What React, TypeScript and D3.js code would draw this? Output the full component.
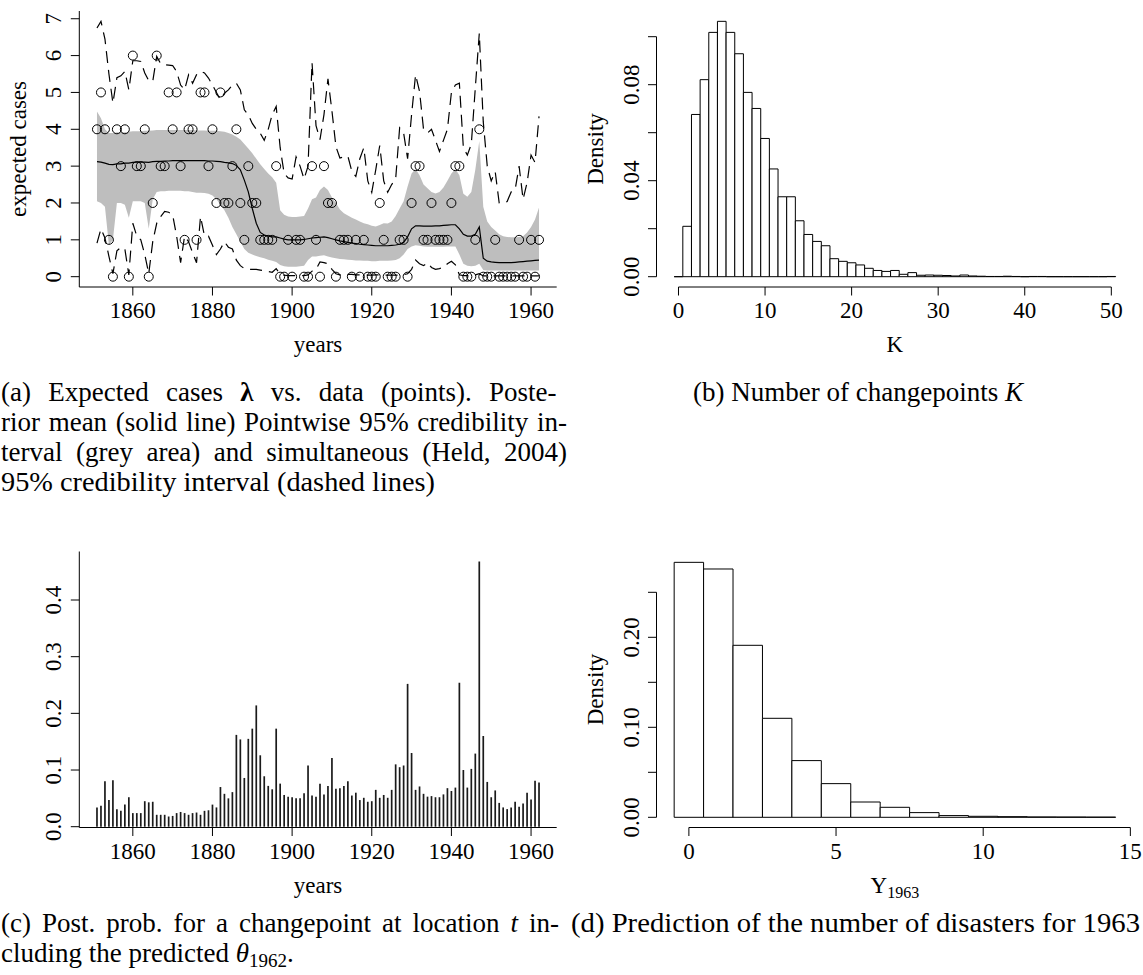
import React, { useLayoutEffect, useRef, useState } from "react";
import * as d3 from "d3";

// ---------------------------------------------------------------------------
// Data: British coal-mining disasters 1851-1962 and posterior summaries
// ---------------------------------------------------------------------------
const FIRST_YEAR = 1851;

const disasters = [
  4, 5, 4, 1, 0, 4, 3, 4, 0, 6,
  3, 3, 4, 0, 2, 6, 3, 3, 5, 4,
  5, 3, 1, 4, 4, 1, 5, 5, 3, 4,
  2, 5, 2, 2, 3, 4, 2, 1, 3, 2,
  2, 1, 1, 1, 1, 3, 0, 0, 1, 0,
  1, 1, 0, 0, 3, 1, 0, 3, 2, 2,
  0, 1, 1, 1, 0, 1, 0, 1, 0, 0,
  0, 2, 1, 0, 0, 0, 1, 1, 0, 2,
  3, 3, 1, 1, 2, 1, 1, 1, 1, 2,
  3, 3, 0, 0, 0, 1, 4, 0, 0, 0,
  1, 0, 0, 0, 0, 0, 1, 0, 0, 1,
  0, 1,
];

// posterior mean of lambda_t
const postMean = [
  3.12, 3.11, 3.08, 3.05, 3.04, 3.06, 3.06, 3.08, 3.08, 3.1,
  3.11, 3.11, 3.11, 3.1, 3.12, 3.13, 3.13, 3.14, 3.14, 3.15,
  3.15, 3.15, 3.15, 3.15, 3.15, 3.15, 3.15, 3.15, 3.14, 3.14,
  3.13, 3.12, 3.1, 3.09, 3.07, 3.02, 2.9, 2.62, 2.3, 1.85,
  1.45, 1.2, 1.13, 1.1, 1.08, 1.08, 1.05, 1.02, 1.0, 1.0,
  1.0, 1.0, 1.01, 1.03, 1.05, 1.06, 1.07, 1.08, 1.06, 1.03,
  1.0, 0.97, 0.95, 0.93, 0.91, 0.9, 0.88, 0.87, 0.86, 0.85,
  0.84, 0.84, 0.84, 0.84, 0.85, 0.86, 0.88, 0.93, 1.08, 1.3,
  1.38, 1.38, 1.37, 1.37, 1.37, 1.38, 1.38, 1.39, 1.4, 1.41,
  1.41, 1.3, 1.15, 1.1, 1.1, 1.15, 1.35, 0.5, 0.42, 0.4,
  0.39, 0.38, 0.38, 0.38, 0.38, 0.39, 0.4, 0.41, 0.42, 0.43,
  0.44, 0.45,
];

// pointwise 95% credibility interval
const pointLo = [
  2.05, 2.0, 1.9, 0.85, 1.0, 2.0, 2.0, 1.95, 1.6, 2.05,
  2.05, 2.05, 2.0, 1.3, 2.1, 2.3, 2.32, 2.32, 2.33, 2.33,
  2.33, 2.33, 2.32, 2.32, 2.3, 2.28, 2.28, 2.27, 2.25, 2.2,
  2.1, 1.95, 1.8, 1.6, 1.35, 1.15, 0.95, 0.75, 0.65, 0.6,
  0.56, 0.53, 0.5, 0.46, 0.43, 0.4, 0.32, 0.28, 0.27, 0.27,
  0.27, 0.28, 0.3, 0.45, 0.55, 0.55, 0.57, 0.58, 0.55, 0.52,
  0.5, 0.48, 0.47, 0.46, 0.45, 0.44, 0.44, 0.43, 0.43, 0.42,
  0.42, 0.43, 0.43, 0.43, 0.44, 0.45, 0.5, 0.6, 0.75, 0.82,
  0.85, 0.84, 0.82, 0.81, 0.81, 0.81, 0.81, 0.81, 0.82, 0.82,
  0.82, 0.6, 0.35, 0.3, 0.28, 0.3, 0.35, 0.18, 0.17, 0.17,
  0.17, 0.17, 0.17, 0.17, 0.17, 0.17, 0.17, 0.17, 0.17, 0.17,
  0.17, 0.17,
];

const pointHi = [
  4.48, 4.3, 4.0, 3.9, 3.9, 3.92, 3.92, 3.92, 3.93, 3.95,
  3.95, 3.95, 3.96, 3.96, 3.97, 3.98, 3.98, 3.98, 3.98, 3.98,
  3.98, 3.98, 3.98, 3.98, 3.98, 3.97, 3.97, 3.97, 3.96, 3.96,
  3.96, 3.95, 3.93, 3.9, 3.86, 3.8, 3.72, 3.6, 3.48, 3.35,
  3.2, 3.05, 2.92, 2.8, 2.7, 2.55, 1.8, 1.68, 1.63, 1.62,
  1.62, 1.63, 1.65, 1.85, 2.1, 2.15, 2.35, 2.45, 2.35, 2.15,
  2.0, 1.82, 1.72, 1.66, 1.6, 1.55, 1.5, 1.45, 1.42, 1.38,
  1.36, 1.4, 1.45, 1.44, 1.5, 1.65, 1.85, 2.05, 2.45, 2.8,
  2.92, 2.75, 2.5, 2.4, 2.3, 2.26, 2.3, 2.42, 2.6, 2.8,
  2.92, 2.75, 2.25, 2.17, 2.3, 2.9, 3.68, 1.9, 1.5, 1.35,
  1.25, 1.15, 1.1, 1.08, 1.07, 1.07, 1.08, 1.1, 1.2, 1.35,
  1.55, 1.88,
];

// simultaneous 95% credibility interval
const simLo = [
  0.91, 1.3, 1.05, 0.55, 0.08, 0.7, 0.8, 0.75, 0.05, 1.45,
  1.1, 1.0, 0.6, 0.08, 0.95, 1.45, 1.63, 1.77, 1.75, 1.68,
  1.1, 0.38, 1.1, 0.95, 0.65, 0.38, 1.63, 1.1, 1.1, 0.85,
  0.6, 0.75, 0.95, 0.8, 0.75, 0.45, 0.3, 0.22, 0.2, 0.2,
  0.2, 0.18, 0.16, 0.14, 0.12, 0.22, 0.06, 0.04, 0.03, 0.03,
  0.03, 0.03, 0.03, 0.05, 0.15, 0.2, 0.4, 0.38, 0.35, 0.2,
  0.08, 0.05, 0.05, 0.06, 0.06, 0.05, 0.05, 0.04, 0.04, 0.04,
  0.05, 0.05, 0.04, 0.04, 0.04, 0.04, 0.05, 0.06, 0.08, 0.2,
  0.45, 0.35, 0.3, 0.38, 0.25, 0.2, 0.22, 0.25, 0.35, 0.42,
  0.32, 0.05, 0.03, 0.03, 0.03, 0.05, 0.08, 0.02, 0.02, 0.02,
  0.02, 0.02, 0.02, 0.02, 0.02, 0.02, 0.02, 0.02, 0.02, 0.02,
  0.02, 0.02,
];

const simHi = [
  6.75, 6.93, 6.45, 5.5, 4.71, 5.4, 5.45, 5.57, 5.07, 5.86,
  5.86, 5.84, 5.53, 5.32, 5.3, 5.98, 5.78, 5.75, 5.74, 5.73,
  5.57, 5.2, 5.07, 5.48, 5.25, 5.48, 5.57, 5.53, 5.39, 5.2,
  5.0, 4.8, 4.98, 5.07, 5.2, 5.25, 5.07, 4.53, 4.39, 4.16,
  4.0, 3.89, 3.7, 4.0, 4.4, 4.62, 3.5, 2.8, 2.68, 2.65,
  3.25, 3.0, 2.65, 3.0, 5.81, 4.1, 3.72, 4.4, 5.37, 4.5,
  3.53, 3.22, 3.25, 3.27, 2.86, 2.72, 3.2, 3.5, 2.6, 2.29,
  2.9, 3.56, 2.6, 2.29, 2.5, 2.65, 4.04, 3.9, 3.2, 4.4,
  5.48, 5.03, 4.0, 3.9, 4.0, 3.7, 3.4, 3.7, 4.0, 5.0,
  5.2, 5.25, 3.5, 3.3, 3.6, 5.12, 6.6, 4.2, 3.0, 2.6,
  2.85, 2.0, 2.0, 2.04, 2.3, 2.36, 3.0, 2.1, 2.55, 3.3,
  3.1, 4.35,
];

// posterior probability of a changepoint at each year
const cpProb = [
  0.034, 0.037, 0.08, 0.047, 0.082, 0.031, 0.028, 0.039, 0.052, 0.024,
  0.024, 0.024, 0.045, 0.043, 0.044, 0.021, 0.021, 0.021, 0.018, 0.019,
  0.024, 0.026, 0.024, 0.021, 0.024, 0.025, 0.021, 0.028, 0.029, 0.039,
  0.034, 0.07, 0.058, 0.05, 0.061, 0.162, 0.154, 0.086, 0.155, 0.173,
  0.214, 0.126, 0.089, 0.072, 0.066, 0.173, 0.076, 0.056, 0.053, 0.052,
  0.05, 0.05, 0.059, 0.108, 0.055, 0.053, 0.076, 0.057, 0.072, 0.121,
  0.067, 0.068, 0.072, 0.08, 0.055, 0.06, 0.047, 0.051, 0.044, 0.045,
  0.065, 0.051, 0.056, 0.051, 0.065, 0.11, 0.105, 0.108, 0.252, 0.13,
  0.065, 0.071, 0.058, 0.053, 0.054, 0.052, 0.052, 0.057, 0.068, 0.063,
  0.069, 0.254, 0.1, 0.069, 0.102, 0.129, 0.468, 0.16, 0.079, 0.052,
  0.064, 0.042, 0.034, 0.031, 0.034, 0.044, 0.035, 0.041, 0.06, 0.048,
  0.081, 0.078,
];

// posterior of the number of changepoints K (K = 0..50)
const kDensity = [
  0, 0.021, 0.0676, 0.0821, 0.1018, 0.1064, 0.1018, 0.0929, 0.0768, 0.0701,
  0.0576, 0.0449, 0.0333, 0.0333, 0.0233, 0.0176, 0.0147, 0.0129, 0.0075, 0.0064,
  0.0058, 0.0049, 0.0035, 0.0026, 0.0022, 0.0026, 0.001, 0.0017, 0.0006, 0.0007,
  0.0006, 0.0005, 0.0003, 0.0007, 0.0003, 0.0002, 0.0001, 0.0001, 0.0002, 0.0001,
  0, 0.0001, 0.0001, 0, 0, 0, 0, 0, 0, 0,
  0.0001,
];

// predictive distribution of Y_1963 (Y = 0..14)
const yDensity = [
  0.2833, 0.2759, 0.1911, 0.11, 0.063, 0.0374, 0.017, 0.0111, 0.0052, 0.0019,
  0.0011, 0.0007, 0.0004, 0.0003, 0.0002,
];

const yearTicks = [1860, 1880, 1900, 1920, 1940, 1960];
const lambdaTicks = [0, 1, 2, 3, 4, 5, 6, 7];
const cpTicks = [0, 0.1, 0.2, 0.3, 0.4];
const cpTickLabels = ["0.0", "0.1", "0.2", "0.3", "0.4"];
const kTicksX = [0, 10, 20, 30, 40, 50];
const kTicksY = [0, 0.02, 0.04, 0.06, 0.08, 0.1];
const kTickLabelsY = ["0.00", "", "0.04", "", "0.08", ""];
const predTicksX = [0, 5, 10, 15];
const predTicksY = [0, 0.05, 0.1, 0.15, 0.2, 0.25];
const predTickLabelsY = ["0.00", "", "0.10", "", "0.20", ""];

// ---------------------------------------------------------------------------
// Layout
// ---------------------------------------------------------------------------
const W = 1143;
const H = 975;
const SERIF = "'Liberation Serif', 'Times New Roman', Times, serif";
const AXIS_FS = 23;
const CAP_FS = 27;
const TICK = 8.5;

const LEFT = { x0: 79.3, x1: 556.7 };
const RIGHT = { x0: 656.5, x1: 1133.3 };
const TOP = { y0: 11, y1: 287 };
const BOT = { y0: 551.5, y1: 827.5 };

const years = disasters.map((_, i) => FIRST_YEAR + i);
const yearPad = (years[years.length - 1] - years[0]) * 0.04;

const xYear = d3
  .scaleLinear()
  .domain([years[0] - yearPad, years[years.length - 1] + yearPad])
  .range([LEFT.x0, LEFT.x1]);
const yLambda = d3.scaleLinear().domain([-0.28, 7.21]).range([TOP.y1, TOP.y0]);
const yCp = d3.scaleLinear().domain([0, 0.4]).range([826.7, 600]);
const xK = d3.scaleLinear().domain([-2.54, 52.54]).range([RIGHT.x0, RIGHT.x1]);
const yK = d3.scaleLinear().domain([0, 0.1]).range([276.7, 36.7]);
const xPred = d3.scaleLinear().domain([-1.1, 15.1]).range([RIGHT.x0, RIGHT.x1]);
const yPred = d3.scaleLinear().domain([0, 0.25]).range([817.3, 592.3]);

// ---------------------------------------------------------------------------
// Small drawing helpers
// ---------------------------------------------------------------------------
function XAxis({ scale, ticks, labels, y, from, to }: any) {
  return (
    <g>
      {from !== undefined && (
        <line x1={from} x2={to} y1={y} y2={y} stroke="#000" strokeWidth={1} />
      )}
      {ticks.map((t: number, i: number) => (
        <g key={t}>
          <line x1={scale(t)} x2={scale(t)} y1={y} y2={y + TICK} stroke="#000" strokeWidth={1} />
          <text x={scale(t)} y={y + 31} textAnchor="middle" fontSize={AXIS_FS} fontFamily={SERIF}>
            {labels ? labels[i] : String(t)}
          </text>
        </g>
      ))}
    </g>
  );
}

function YAxis({ scale, ticks, labels, x, lineFrom, lineTo }: any) {
  return (
    <g>
      {lineFrom !== undefined && (
        <line x1={x} x2={x} y1={lineFrom} y2={lineTo} stroke="#000" strokeWidth={1} />
      )}
      {ticks.map((t: number, i: number) => {
        const lab = labels ? labels[i] : String(t);
        return (
          <g key={t}>
            <line x1={x} x2={x - TICK} y1={scale(t)} y2={scale(t)} stroke="#000" strokeWidth={1} />
            {lab !== "" && (
              <text
                transform={`translate(${x - 18},${scale(t)}) rotate(-90)`}
                textAnchor="middle"
                fontSize={AXIS_FS}
                fontFamily={SERIF}
              >
                {lab}
              </text>
            )}
          </g>
        );
      })}
    </g>
  );
}

function YLabel({ x, y, children }: any) {
  return (
    <text
      transform={`translate(${x},${y}) rotate(-90)`}
      textAnchor="middle"
      fontSize={AXIS_FS}
      fontFamily={SERIF}
    >
      {children}
    </text>
  );
}

// Histogram cell as a closed path, so empty bins still show as a flat line.
function binPath(x0: number, x1: number, yTop: number, yBase: number) {
  const p = d3.path();
  p.moveTo(x0, yBase);
  p.lineTo(x0, yTop);
  p.lineTo(x1, yTop);
  p.lineTo(x1, yBase);
  p.closePath();
  return p.toString();
}

// A caption line, either justified to a width (word spacing) or fitted.
function CapLine({ x, y, width, mode, anchor = "start", children }: any) {
  const ref = useRef<SVGTextElement>(null);
  const [ws, setWs] = useState(0);
  useLayoutEffect(() => {
    const el = ref.current;
    if (!el || mode !== "justify") return;
    const natural = el.getComputedTextLength();
    const gaps = (el.textContent || "").split(" ").length - 1;
    if (gaps > 0) setWs(Math.max(0, (width - natural) / gaps));
  }, [width, mode]);
  const fit = mode === "fit" ? { textLength: width, lengthAdjust: "spacingAndGlyphs" } : {};
  return (
    <text
      ref={ref}
      x={x}
      y={y}
      textAnchor={anchor}
      fontSize={CAP_FS}
      fontFamily={SERIF}
      style={{ wordSpacing: `${ws}px` }}
      {...fit}
    >
      {children}
    </text>
  );
}

// ---------------------------------------------------------------------------
// Panels
// ---------------------------------------------------------------------------
function PanelLambda() {
  const band = d3
    .area<number>()
    .x((_, i) => xYear(years[i]))
    .y0((_, i) => yLambda(pointLo[i]))
    .y1((_, i) => yLambda(pointHi[i]));
  const line = (vals: number[]) =>
    d3
      .line<number>()
      .x((_, i) => xYear(years[i]))
      .y((d) => yLambda(d))(vals) || "";

  return (
    <g>
      <path d={band(postMean) || ""} fill="#bebebe" stroke="none" />
      <path d={line(postMean)} fill="none" stroke="#000" strokeWidth={1.2} />
      <path d={line(simHi)} fill="none" stroke="#000" strokeWidth={1.2} strokeDasharray="12 7" />
      <path d={line(simLo)} fill="none" stroke="#000" strokeWidth={1.2} strokeDasharray="12 7" />
      {disasters.map((c, i) => (
        <circle
          key={i}
          cx={xYear(years[i])}
          cy={yLambda(c)}
          r={4.5}
          fill="none"
          stroke="#000"
          strokeWidth={1}
        />
      ))}
      <path
        d={`M${LEFT.x0},${TOP.y0}V${TOP.y1}H${LEFT.x1}`}
        fill="none"
        stroke="#000"
        strokeWidth={1}
      />
      <YAxis scale={yLambda} ticks={lambdaTicks} x={LEFT.x0} />
      <XAxis scale={xYear} ticks={yearTicks} y={TOP.y1} />
      <YLabel x={LEFT.x0 - 53} y={(TOP.y0 + TOP.y1) / 2}>
        expected cases
      </YLabel>
      <text
        x={(LEFT.x0 + LEFT.x1) / 2}
        y={TOP.y1 + 65}
        textAnchor="middle"
        fontSize={AXIS_FS}
        fontFamily={SERIF}
      >
        years
      </text>
    </g>
  );
}

function PanelK() {
  return (
    <g>
      {kDensity.map((d, k) => (
        <path
          key={k}
          d={binPath(xK(k - 0.5), xK(k + 0.5), yK(d), yK(0))}
          fill="#fff"
          stroke="#000"
          strokeWidth={1}
        />
      ))}
      <YAxis
        scale={yK}
        ticks={kTicksY}
        labels={kTickLabelsY}
        x={RIGHT.x0}
        lineFrom={yK(0)}
        lineTo={yK(0.1)}
      />
      <XAxis scale={xK} ticks={kTicksX} y={TOP.y1} from={xK(0)} to={xK(50)} />
      <YLabel x={RIGHT.x0 - 54} y={(TOP.y0 + TOP.y1) / 2}>
        Density
      </YLabel>
      <text
        x={(RIGHT.x0 + RIGHT.x1) / 2}
        y={TOP.y1 + 65}
        textAnchor="middle"
        fontSize={AXIS_FS}
        fontFamily={SERIF}
      >
        K
      </text>
    </g>
  );
}

function PanelChangepoint() {
  return (
    <g>
      {cpProb.map((p, i) => (
        <line
          key={i}
          x1={xYear(years[i])}
          x2={xYear(years[i])}
          y1={yCp(0)}
          y2={yCp(p)}
          stroke="#1a1a1a"
          strokeWidth={1.7}
        />
      ))}
      <path
        d={`M${LEFT.x0},${BOT.y0}V${BOT.y1}H${LEFT.x1}`}
        fill="none"
        stroke="#000"
        strokeWidth={1}
      />
      <YAxis scale={yCp} ticks={cpTicks} labels={cpTickLabels} x={LEFT.x0} />
      <XAxis scale={xYear} ticks={yearTicks} y={BOT.y1} />
      <text
        x={(LEFT.x0 + LEFT.x1) / 2}
        y={BOT.y1 + 65}
        textAnchor="middle"
        fontSize={AXIS_FS}
        fontFamily={SERIF}
      >
        years
      </text>
    </g>
  );
}

function PanelPrediction() {
  return (
    <g>
      {yDensity.map((d, v) => (
        <path
          key={v}
          d={binPath(xPred(v - 0.5), xPred(v + 0.5), yPred(d), yPred(0))}
          fill="#fff"
          stroke="#000"
          strokeWidth={1}
        />
      ))}
      <YAxis
        scale={yPred}
        ticks={predTicksY}
        labels={predTickLabelsY}
        x={RIGHT.x0}
        lineFrom={yPred(0)}
        lineTo={yPred(0.25)}
      />
      <XAxis scale={xPred} ticks={predTicksX} y={BOT.y1} from={xPred(0)} to={xPred(15)} />
      <YLabel x={RIGHT.x0 - 54} y={(BOT.y0 + BOT.y1) / 2}>
        Density
      </YLabel>
      <text
        x={(RIGHT.x0 + RIGHT.x1) / 2}
        y={BOT.y1 + 65}
        textAnchor="middle"
        fontSize={AXIS_FS}
        fontFamily={SERIF}
      >
        Y
        <tspan fontSize={16} dy={5}>
          1963
        </tspan>
      </text>
    </g>
  );
}

function Captions() {
  return (
    <g fill="#000">
      <CapLine x={1} y={401} width={566} mode="justify">
        {"(a) Expected cases "}
        <tspan fontWeight="bold">λ</tspan>
        {" vs. data (points).  Poste-"}
      </CapLine>
      <CapLine x={1} y={431} width={566} mode="justify">
        {"rior mean (solid line) Pointwise 95% credibility in-"}
      </CapLine>
      <CapLine x={1} y={461} width={566} mode="justify">
        {"terval (grey area) and simultaneous (Held, 2004)"}
      </CapLine>
      <CapLine x={1} y={491} width={434} mode="fit">
        {"95% credibility interval (dashed lines)"}
      </CapLine>

      <CapLine x={858} y={401} width={352} mode="none" anchor="middle">
        {"(b) Number of changepoints "}
        <tspan fontStyle="italic">K</tspan>
      </CapLine>

      <CapLine x={1} y={932} width={558} mode="justify">
        {"(c) Post. prob. for a changepoint at location "}
        <tspan fontStyle="italic">t</tspan>
        {" in-"}
      </CapLine>
      <CapLine x={1} y={962} width={310} mode="none">
        {"cluding the predicted "}
        <tspan fontStyle="italic">θ</tspan>
        <tspan fontSize={19} dy={5}>
          1962
        </tspan>
        <tspan dy={-5}>.</tspan>
      </CapLine>

      <CapLine x={571} y={932} width={569} mode="fit">
        {"(d) Prediction of the number of disasters for 1963"}
      </CapLine>
    </g>
  );
}

export default function App() {
  return (
    <div>
      <style>{"body{margin:0;background:#fff}"}</style>
      <svg width={W} height={H} viewBox={`0 0 ${W} ${H}`} style={{ display: "block" }}>
        <rect x={0} y={0} width={W} height={H} fill="#fff" />
        <PanelLambda />
        <PanelK />
        <PanelChangepoint />
        <PanelPrediction />
        <Captions />
      </svg>
    </div>
  );
}
